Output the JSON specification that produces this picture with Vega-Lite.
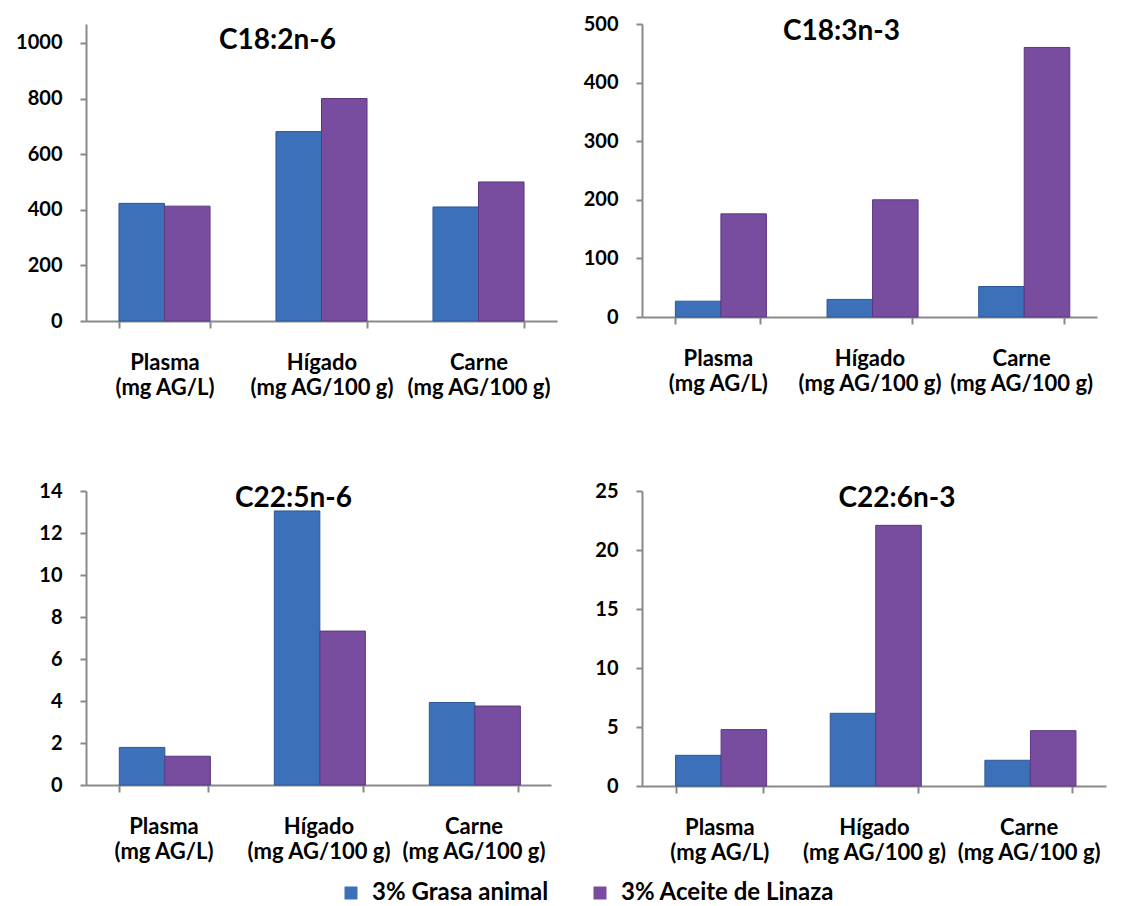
{
  "$schema": "https://vega.github.io/schema/vega-lite/v6.json",
  "padding": {"left": 9, "top": 14, "right": 10, "bottom": 0},
  "background": "white",
  "datasets": {
    "acidos": [
      {"acido": "C18:2n-6", "tejido": "Plasma|(mg AG/L)", "dieta": "3% Grasa animal", "valor": 423},
      {"acido": "C18:2n-6", "tejido": "Plasma|(mg AG/L)", "dieta": "3% Aceite de Linaza", "valor": 413},
      {"acido": "C18:2n-6", "tejido": "Hígado|(mg AG/100 g)", "dieta": "3% Grasa animal", "valor": 681},
      {"acido": "C18:2n-6", "tejido": "Hígado|(mg AG/100 g)", "dieta": "3% Aceite de Linaza", "valor": 800},
      {"acido": "C18:2n-6", "tejido": "Carne|(mg AG/100 g)", "dieta": "3% Grasa animal", "valor": 410},
      {"acido": "C18:2n-6", "tejido": "Carne|(mg AG/100 g)", "dieta": "3% Aceite de Linaza", "valor": 500},
      {"acido": "C18:3n-3", "tejido": "Plasma|(mg AG/L)", "dieta": "3% Grasa animal", "valor": 27},
      {"acido": "C18:3n-3", "tejido": "Plasma|(mg AG/L)", "dieta": "3% Aceite de Linaza", "valor": 176},
      {"acido": "C18:3n-3", "tejido": "Hígado|(mg AG/100 g)", "dieta": "3% Grasa animal", "valor": 30},
      {"acido": "C18:3n-3", "tejido": "Hígado|(mg AG/100 g)", "dieta": "3% Aceite de Linaza", "valor": 200},
      {"acido": "C18:3n-3", "tejido": "Carne|(mg AG/100 g)", "dieta": "3% Grasa animal", "valor": 52},
      {"acido": "C18:3n-3", "tejido": "Carne|(mg AG/100 g)", "dieta": "3% Aceite de Linaza", "valor": 460},
      {"acido": "C22:5n-6", "tejido": "Plasma|(mg AG/L)", "dieta": "3% Grasa animal", "valor": 1.79},
      {"acido": "C22:5n-6", "tejido": "Plasma|(mg AG/L)", "dieta": "3% Aceite de Linaza", "valor": 1.37},
      {"acido": "C22:5n-6", "tejido": "Hígado|(mg AG/100 g)", "dieta": "3% Grasa animal", "valor": 13.05},
      {"acido": "C22:5n-6", "tejido": "Hígado|(mg AG/100 g)", "dieta": "3% Aceite de Linaza", "valor": 7.33},
      {"acido": "C22:5n-6", "tejido": "Carne|(mg AG/100 g)", "dieta": "3% Grasa animal", "valor": 3.93},
      {"acido": "C22:5n-6", "tejido": "Carne|(mg AG/100 g)", "dieta": "3% Aceite de Linaza", "valor": 3.76},
      {"acido": "C22:6n-3", "tejido": "Plasma|(mg AG/L)", "dieta": "3% Grasa animal", "valor": 2.6},
      {"acido": "C22:6n-3", "tejido": "Plasma|(mg AG/L)", "dieta": "3% Aceite de Linaza", "valor": 4.78},
      {"acido": "C22:6n-3", "tejido": "Hígado|(mg AG/100 g)", "dieta": "3% Grasa animal", "valor": 6.16},
      {"acido": "C22:6n-3", "tejido": "Hígado|(mg AG/100 g)", "dieta": "3% Aceite de Linaza", "valor": 22.09},
      {"acido": "C22:6n-3", "tejido": "Carne|(mg AG/100 g)", "dieta": "3% Grasa animal", "valor": 2.18},
      {"acido": "C22:6n-3", "tejido": "Carne|(mg AG/100 g)", "dieta": "3% Aceite de Linaza", "valor": 4.69}
    ]
  },
  "data": {"name": "acidos"},
  "spacing": 83,
  "vconcat": [
    {
      "spacing": 26,
      "hconcat": [
        {
          "width": 471, "height": 297,
          "title": {"text": "C18:2n-6", "dx": -44, "dy": 35},
          "transform": [{"filter": "datum.acido === 'C18:2n-6'"}],
          "mark": {"type": "bar", "strokeWidth": 1},
          "encoding": {
            "x": {"field": "tejido", "type": "nominal", "sort": null, "title": null,
                  "scale": {"paddingInner": 0.42, "paddingOuter": 0.21}},
            "xOffset": {"field": "dieta", "type": "nominal", "sort": ["3% Grasa animal", "3% Aceite de Linaza"]},
            "y": {"field": "valor", "type": "quantitative", "title": null,
                  "scale": {"domain": [0, 1068], "nice": false},
                  "axis": {"values": [0, 200, 400, 600, 800, 1000], "format": "d", "minExtent": 70, "maxExtent": 70}},
            "color": {"field": "dieta", "type": "nominal", "title": null,
                      "sort": ["3% Grasa animal", "3% Aceite de Linaza"]},
            "stroke": {"field": "dieta", "type": "nominal", "legend": null,
                       "sort": ["3% Grasa animal", "3% Aceite de Linaza"],
                       "scale": {"range": ["#2B5895", "#5A3780"]}}
          }
        },
        {
          "width": 455, "height": 293,
          "title": {"text": "C18:3n-3", "dx": -28, "dy": 36},
          "transform": [{"filter": "datum.acido === 'C18:3n-3'"}],
          "mark": {"type": "bar", "strokeWidth": 1},
          "encoding": {
            "x": {"field": "tejido", "type": "nominal", "sort": null, "title": null,
                  "scale": {"paddingInner": 0.44, "paddingOuter": 0.22}},
            "xOffset": {"field": "dieta", "type": "nominal", "sort": ["3% Grasa animal", "3% Aceite de Linaza"]},
            "y": {"field": "valor", "type": "quantitative", "title": null,
                  "scale": {"domain": [0, 500], "nice": false},
                  "axis": {"values": [0, 100, 200, 300, 400, 500], "minExtent": 59, "maxExtent": 59}},
            "color": {"field": "dieta", "type": "nominal", "title": null,
                      "sort": ["3% Grasa animal", "3% Aceite de Linaza"]},
            "stroke": {"field": "dieta", "type": "nominal", "legend": null,
                       "sort": ["3% Grasa animal", "3% Aceite de Linaza"],
                       "scale": {"range": ["#2B5895", "#5A3780"]}}
          }
        }
      ]
    },
    {
      "spacing": 26,
      "hconcat": [
        {
          "width": 465, "height": 294,
          "title": {"text": "C22:5n-6", "dx": -25, "dy": 36},
          "transform": [{"filter": "datum.acido === 'C22:5n-6'"}],
          "mark": {"type": "bar", "strokeWidth": 1},
          "encoding": {
            "x": {"field": "tejido", "type": "nominal", "sort": null, "title": null,
                  "scale": {"paddingInner": 0.43, "paddingOuter": 0.215}},
            "xOffset": {"field": "dieta", "type": "nominal", "sort": ["3% Grasa animal", "3% Aceite de Linaza"]},
            "y": {"field": "valor", "type": "quantitative", "title": null,
                  "scale": {"domain": [0, 14], "nice": false},
                  "axis": {"values": [0, 2, 4, 6, 8, 10, 12, 14], "minExtent": 77, "maxExtent": 77}},
            "color": {"field": "dieta", "type": "nominal", "title": null,
                      "sort": ["3% Grasa animal", "3% Aceite de Linaza"]},
            "stroke": {"field": "dieta", "type": "nominal", "legend": null,
                       "sort": ["3% Grasa animal", "3% Aceite de Linaza"],
                       "scale": {"range": ["#2B5895", "#5A3780"]}}
          }
        },
        {
          "width": 464, "height": 295,
          "title": {"text": "C22:6n-3", "dx": 23, "dy": 36},
          "transform": [{"filter": "datum.acido === 'C22:6n-3'"}],
          "mark": {"type": "bar", "strokeWidth": 1},
          "encoding": {
            "x": {"field": "tejido", "type": "nominal", "sort": null, "title": null,
                  "scale": {"paddingInner": 0.434, "paddingOuter": 0.217}},
            "xOffset": {"field": "dieta", "type": "nominal", "sort": ["3% Grasa animal", "3% Aceite de Linaza"]},
            "y": {"field": "valor", "type": "quantitative", "title": null,
                  "scale": {"domain": [0, 25], "nice": false},
                  "axis": {"values": [0, 5, 10, 15, 20, 25], "minExtent": 65, "maxExtent": 65}},
            "color": {"field": "dieta", "type": "nominal", "title": null,
                      "sort": ["3% Grasa animal", "3% Aceite de Linaza"]},
            "stroke": {"field": "dieta", "type": "nominal", "legend": null,
                       "sort": ["3% Grasa animal", "3% Aceite de Linaza"],
                       "scale": {"range": ["#2B5895", "#5A3780"]}}
          }
        }
      ]
    }
  ],
  "resolve": {"scale": {"y": "independent", "x": "independent"}},
  "config": {
    "font": "Lato",
    "view": {"stroke": null},
    "title": {"font": "Lato", "fontSize": 28, "fontWeight": "bold", "color": "#000000",
              "anchor": "middle", "offset": 0, "baseline": "middle"},
    "range": {"category": ["#3C70B8", "#784D9F"]},
    "axisY": {
      "grid": false, "domainColor": "#898989", "domainWidth": 2, "tickColor": "#898989", "tickWidth": 2, "tickSize": 6,
      "labelFont": "Lato", "labelFontSize": 20, "labelFontWeight": "bold", "labelColor": "#000000",
      "labelPadding": 18
    },
    "axisX": {
      "grid": false, "domainColor": "#898989", "domainWidth": 2, "tickColor": "#898989", "tickWidth": 2, "tickSize": 7,
      "tickBand": "extent", "labelAngle": 0,
      "labelFont": "Lato", "labelFontSize": 22, "labelFontWeight": "bold", "labelColor": "#000000",
      "labelPadding": 24, "labelLineHeight": 25, "labelExpr": "split(datum.label, '|')"
    },
    "legend": {
      "orient": "none", "legendX": 253, "legendY": 857, "direction": "horizontal",
      "symbolType": "square", "symbolSize": 169, "symbolStrokeWidth": 0,
      "labelFont": "Lato", "labelFontSize": 24, "labelFontWeight": "bold", "labelColor": "#000000",
      "labelLimit": 400, "columnPadding": 39, "labelOffset": 9
    }
  }
}
